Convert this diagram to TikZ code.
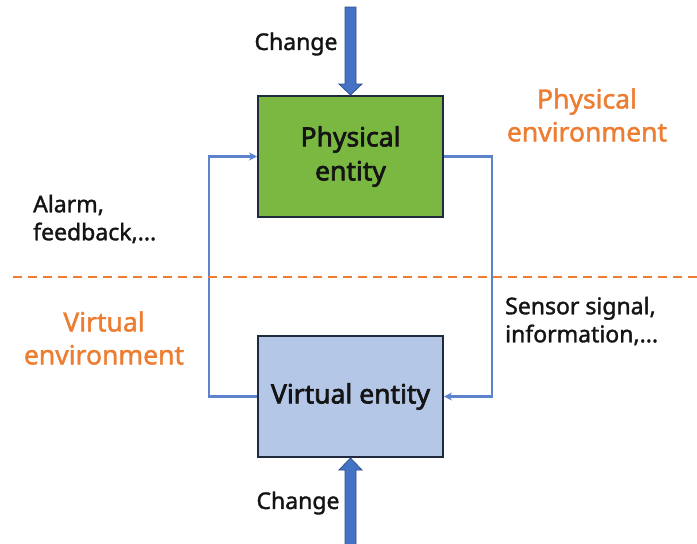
\documentclass[tikz,border=0pt]{standalone}
\usepackage{fontspec}
\setmainfont{Noto Sans}
\newfontfamily\medfont{Noto Sans}[FakeBold=1.5]
\newfontfamily\boxfont{Noto Sans}[FakeBold=2.5]
\usetikzlibrary{arrows.meta,calc}
\definecolor{greenfill}{RGB}{122,184,66}
\definecolor{bluefill}{RGB}{180,199,231}
\definecolor{boxborder}{RGB}{32,42,62}
\definecolor{arrowblue}{RGB}{68,114,196}
\definecolor{arrowedge}{RGB}{47,82,143}
\definecolor{lineblue}{RGB}{92,131,204}
\definecolor{orangec}{RGB}{237,125,49}
\definecolor{textc}{RGB}{20,20,20}
\begin{document}
\begin{tikzpicture}[x=1pt,y=-1pt,
  entity/.style={draw=boxborder, line width=2pt, minimum width=185pt, minimum height=121pt,
    inner sep=0pt, align=center, font=\boxfont\fontsize{26.5}{34}\selectfont, text=textc},
  label/.style={align=left, anchor=west, font=\medfont\fontsize{23}{28}\selectfont, text=textc, inner sep=0pt},
  envlabel/.style={align=center, font=\medfont\fontsize{26.5}{33}\selectfont, text=orangec, inner sep=0pt},
  chg/.style={font=\medfont\fontsize{23}{28}\selectfont, text=textc, inner sep=0pt},
  conn/.style={draw=lineblue, line width=2.2pt, -{Stealth[length=8pt,width=8pt]}},
  bigarrow/.style={fill=arrowblue, draw=arrowedge, line width=0.8pt}]
\useasboundingbox (0,0) rectangle (697,544);
\fill[white] (0,0) rectangle (697,544);

\node[entity, fill=greenfill] (pe) at (350.5,156.5) {Physical\\entity};
\node[entity, fill=bluefill] (ve) at (350.5,396.5) {Virtual entity};

% big arrows
\coordinate (tA) at ($(pe.north)+(0,-88)$);
\coordinate (bA) at ($(ve.south)+(0,88)$);
\path[bigarrow] ($(tA)+(-5.5,0)$) -- ($(pe.north)+(-5.5,-11)$) -- ($(pe.north)+(-11.5,-11)$)
  -- (pe.north) -- ($(pe.north)+(11.5,-11)$) -- ($(pe.north)+(5.5,-11)$) -- ($(tA)+(5.5,0)$) -- cycle;
\path[bigarrow] ($(bA)+(-5.5,0)$) -- ($(ve.south)+(-5.5,12)$) -- ($(ve.south)+(-11.5,12)$)
  -- (ve.south) -- ($(ve.south)+(11.5,12)$) -- ($(ve.south)+(5.5,12)$) -- ($(bA)+(5.5,0)$) -- cycle;

% feedback loops
\draw[conn] (ve.west) -- ++(-48,0) |- (pe.west);
\draw[conn] (pe.east) -- ++(48,0) |- (ve.east);

% dashed boundary
\coordinate (dL) at (13,277);
\coordinate (dR) at (697,277);
\draw[orangec, line width=2.5pt, dash pattern=on 9pt off 6pt] (dL) -- (dR);

% labels
\node[chg] (c1) at (296,44) {Change};
\node[chg] (c2) at (298,503) {Change};
\node[label] (al) at (33,219) {Alarm,\\feedback,...};
\node[label] (ss) at (505,321) {Sensor signal,\\information,...};
\node[envlabel] (pen) at (587,115) {Physical\\environment};
\node[envlabel] (ven) at (104,338) {Virtual\\environment};
\end{tikzpicture}
\end{document}
